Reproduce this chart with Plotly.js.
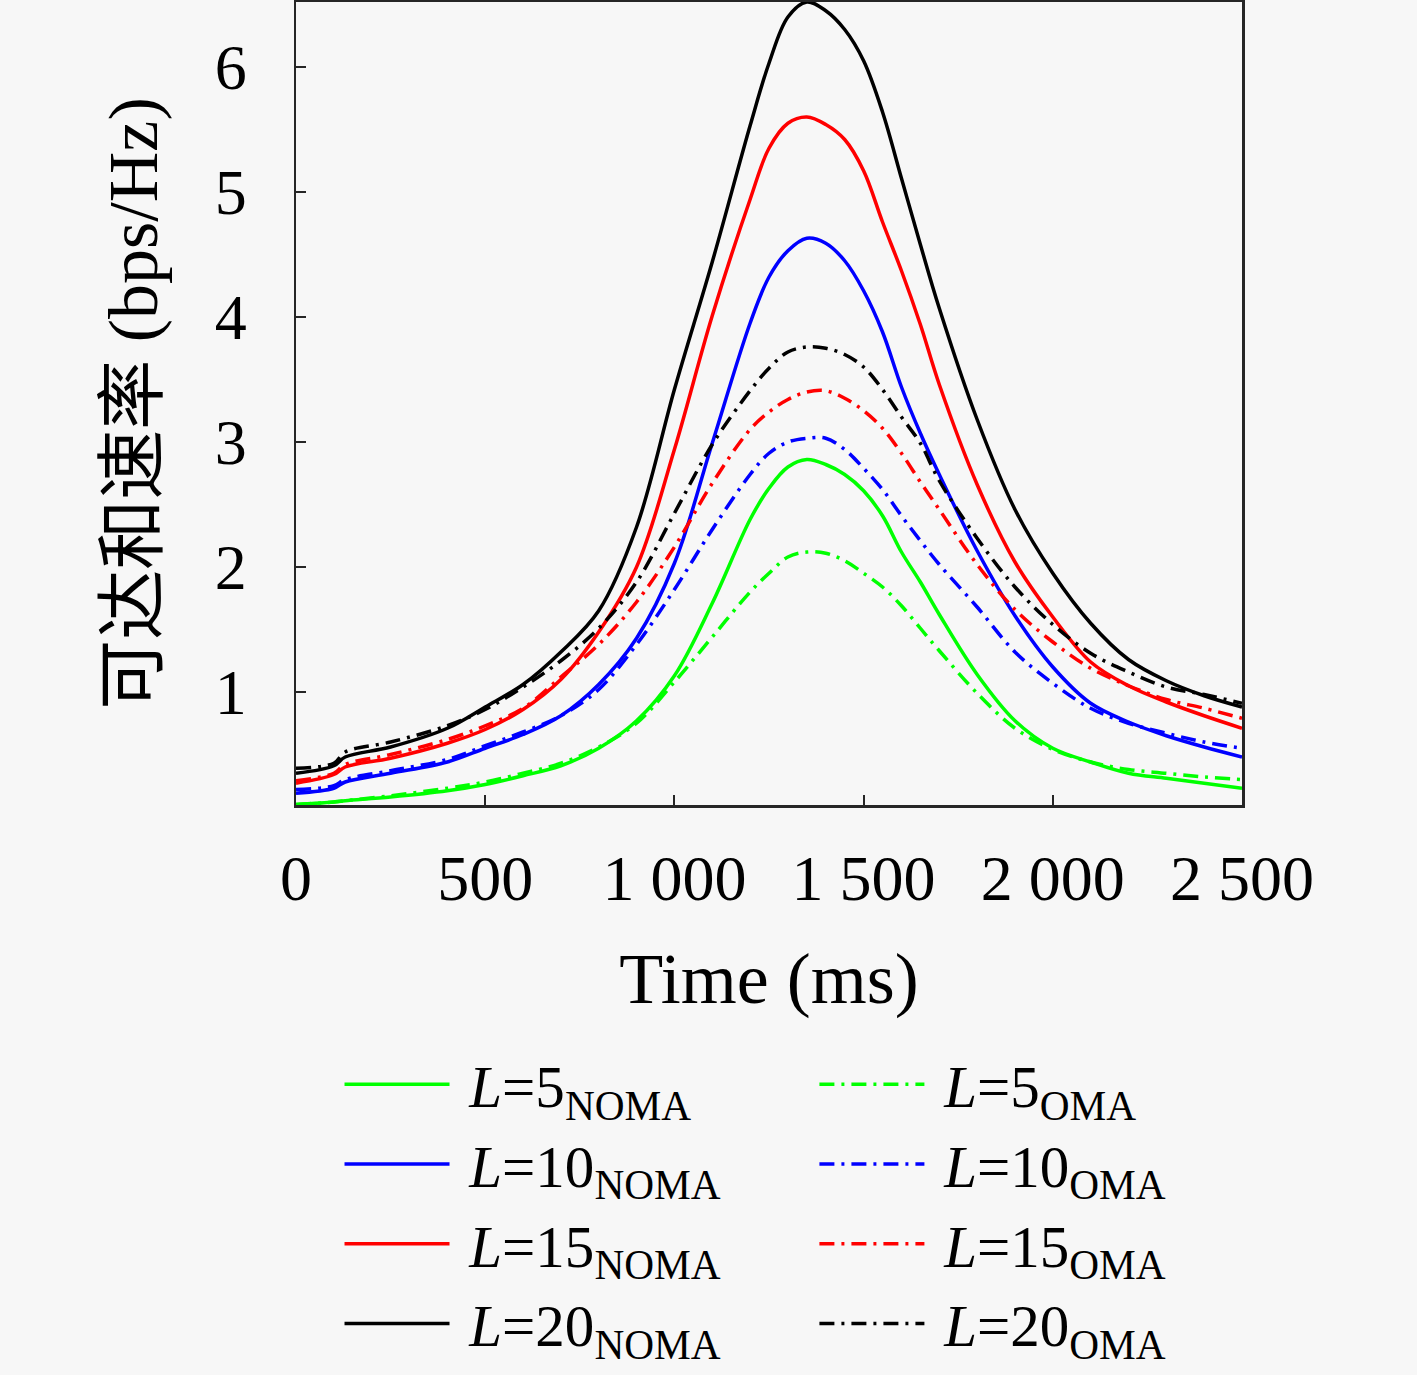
<!DOCTYPE html>
<html>
<head>
<meta charset="utf-8">
<script src="https://cdn.plot.ly/plotly-3.0.1.min.js"></script>
<style>
  html, body { margin: 0; padding: 0; background: #f7f7f7; }
  #chart { width: 1417px; height: 1375px; }
</style>
</head>
<body>
<div id="chart"></div>
<script>
// time axis shared by every series (ms)
const TIME = [0, 100, 130, 250, 400, 500, 600, 700, 800, 900, 1000, 1100, 1200, 1250, 1300, 1350,
              1400, 1450, 1500, 1550, 1600, 1650, 1700, 1800, 1900, 2000, 2100, 2200, 2300, 2400, 2500];

// achievable sum rate, NOMA
const NOMA_L5  = [0.10, 0.12, 0.13, 0.16, 0.21, 0.26, 0.33, 0.41, 0.55, 0.77, 1.13, 1.71, 2.38, 2.63, 2.80, 2.86,
                  2.82, 2.74, 2.61, 2.41, 2.12, 1.88, 1.62, 1.14, 0.77, 0.55, 0.44, 0.35, 0.31, 0.27, 0.23];
const NOMA_L10 = [0.19, 0.23, 0.28, 0.35, 0.44, 0.55, 0.66, 0.81, 1.06, 1.43, 2.03, 2.99, 3.95, 4.32, 4.53, 4.63,
                  4.59, 4.45, 4.21, 3.88, 3.44, 3.07, 2.74, 2.13, 1.61, 1.20, 0.91, 0.76, 0.65, 0.56, 0.48];
const NOMA_L15 = [0.27, 0.34, 0.40, 0.47, 0.59, 0.70, 0.86, 1.10, 1.48, 2.00, 2.94, 4.01, 4.94, 5.35, 5.55, 5.60,
                  5.54, 5.42, 5.17, 4.76, 4.37, 3.94, 3.46, 2.66, 2.04, 1.60, 1.24, 1.05, 0.92, 0.81, 0.71];
const NOMA_L20 = [0.35, 0.41, 0.48, 0.56, 0.71, 0.88, 1.06, 1.32, 1.65, 2.32, 3.42, 4.44, 5.53, 6.03, 6.40, 6.52,
                  6.45, 6.30, 6.05, 5.64, 5.11, 4.58, 4.07, 3.18, 2.46, 1.95, 1.55, 1.26, 1.09, 0.97, 0.88];

// achievable sum rate, OMA
const OMA_L5  = [0.10, 0.12, 0.13, 0.17, 0.23, 0.28, 0.35, 0.43, 0.56, 0.75, 1.08, 1.44, 1.80, 1.95, 2.08, 2.12,
                 2.11, 2.05, 1.95, 1.84, 1.69, 1.51, 1.33, 0.99, 0.71, 0.54, 0.44, 0.38, 0.35, 0.32, 0.30];
const OMA_L10 = [0.22, 0.25, 0.30, 0.37, 0.46, 0.57, 0.68, 0.81, 1.02, 1.38, 1.82, 2.30, 2.74, 2.91, 3.00, 3.03,
                 3.03, 2.94, 2.79, 2.62, 2.41, 2.21, 2.02, 1.68, 1.32, 1.07, 0.87, 0.75, 0.67, 0.60, 0.55];
const OMA_L15 = [0.29, 0.35, 0.42, 0.50, 0.62, 0.73, 0.87, 1.12, 1.38, 1.72, 2.16, 2.67, 3.10, 3.24, 3.34, 3.40,
                 3.41, 3.35, 3.25, 3.11, 2.91, 2.68, 2.46, 2.02, 1.66, 1.40, 1.19, 1.05, 0.94, 0.87, 0.79];
const OMA_L20 = [0.39, 0.43, 0.52, 0.60, 0.73, 0.86, 1.04, 1.25, 1.51, 1.88, 2.43, 2.98, 3.41, 3.59, 3.72, 3.76,
                 3.75, 3.70, 3.60, 3.42, 3.20, 2.99, 2.69, 2.23, 1.84, 1.54, 1.31, 1.16, 1.04, 0.98, 0.91];

const L_VALUES = [5, 10, 15, 20];
const COLORS = ['#00ff00', '#0000ff', '#ff0000', '#000000'];
const X_TICKS = [0, 500, 1000, 1500, 2000, 2500];
const X_TICK_TEXT = ['0', '500', '1 000', '1 500', '2 000', '2 500'];
const Y_TICKS = [1, 2, 3, 4, 5, 6];

const SERIF = '"Liberation Serif", "DejaVu Serif", serif';
const DASHDOT = '15px,7px,3px,7px';

const nomaSeries = [NOMA_L5, NOMA_L10, NOMA_L15, NOMA_L20];
const omaSeries  = [OMA_L5, OMA_L10, OMA_L15, OMA_L20];

function makeTrace(values, i, oma) {
  const tag = oma ? 'OMA' : 'NOMA';
  return {
    type: 'scatter',
    mode: 'lines',
    x: TIME,
    y: values,
    name: `\u00a0<i>L</i>=${L_VALUES[i]}<sub>${tag}</sub>`,
    legend: oma ? 'legend2' : 'legend',
    line: { color: COLORS[i], width: 3.5, shape: 'spline', smoothing: 1, dash: oma ? DASHDOT : 'solid' },
    hoverinfo: 'x+y+name'
  };
}

const traces = [
  ...nomaSeries.map((v, i) => makeTrace(v, i, false)),
  ...omaSeries.map((v, i) => makeTrace(v, i, true))
];

const legendBase = {
  orientation: 'v',
  yanchor: 'top',
  xanchor: 'left',
  y: -0.292,
  itemwidth: 105,
  bgcolor: 'rgba(0,0,0,0)',
  font: { family: SERIF, size: 59, color: '#000' }
};

const axisBase = {
  showline: true,
  mirror: true,
  linecolor: '#262626',
  linewidth: 2.5,
  ticks: 'inside',
  ticklen: 10,
  tickwidth: 2,
  tickcolor: '#262626',
  showgrid: false,
  zeroline: false,
  tickfont: { family: SERIF, size: 64, color: '#000' }
};

const layout = {
  width: 1417,
  height: 1375,
  paper_bgcolor: '#f7f7f7',
  plot_bgcolor: '#f7f7f7',
  margin: { l: 296, r: 175, t: 2, b: 570, autoexpand: false },
  showlegend: true,
  xaxis: {
    ...axisBase,
    range: [0, 2500],
    tickmode: 'array',
    tickvals: X_TICKS,
    ticktext: X_TICK_TEXT,
    ticklabelstandoff: 16,
    title: { text: 'Time (ms)', standoff: 40, font: { family: SERIF, size: 72, color: '#000' } }
  },
  yaxis: {
    ...axisBase,
    range: [0.096, 6.52],
    tickmode: 'array',
    tickvals: Y_TICKS,
    ticklabelstandoff: 34,
    title: {
      text: '可达和速率 (bps/Hz)',
      standoff: 34,
      font: { family: SERIF + ', "Noto Sans CJK SC"', size: 70, color: '#000' }
    }
  },
  legend: { ...legendBase, x: 0.046 },
  legend2: { ...legendBase, x: 0.548 }
};

Plotly.newPlot('chart', traces, layout, { displayModeBar: false, staticPlot: true });
</script>
</body>
</html>
